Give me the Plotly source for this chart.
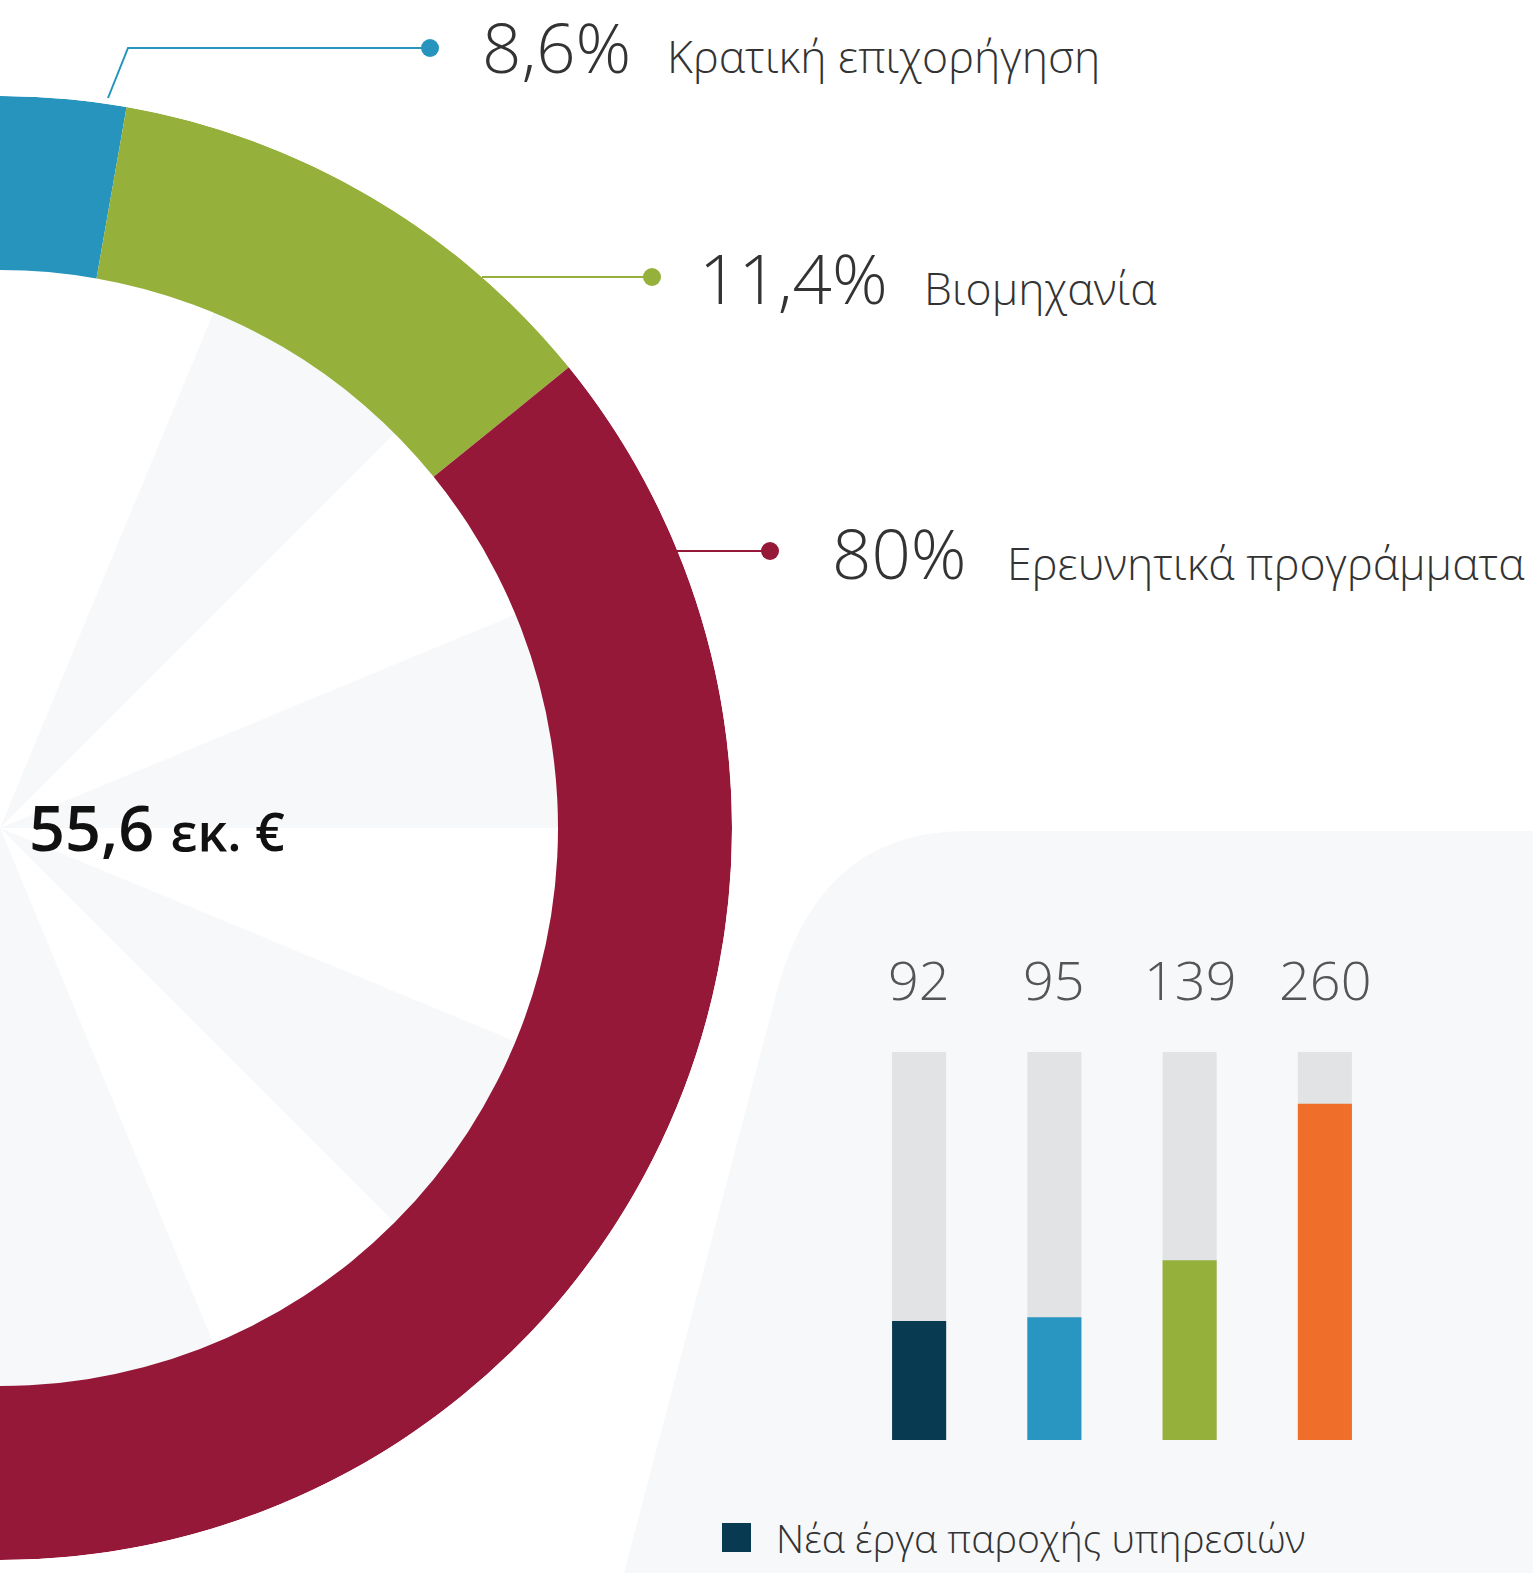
import numpy as np
import plotly.graph_objects as go

W, H = 1533, 1573

# ---------------- data ----------------
share_labels = ["Κρατική επιχορήγηση", "Βιομηχανία", "Ερευνητικά προγράμματα"]
share_values = [8.6, 11.4, 80.0]
share_text = ["8,6%", "11,4%", "80%"]
total_number = "55,6"
total_unit = "εκ. €"

bar_keys = [0, 1, 2, 3]
bar_values = [92, 95, 139, 260]
bar_text = ["92", "95", "139", "260"]
track_max = 300
legend_label = "Νέα έργα παροχής υπηρεσιών"

# ---------------- styles ----------------
ring_colors = ["#2794bd", "#95b03b", "#951839"]
bar_colors = ["#083a52", "#2896c0", "#96b03c", "#ef6f2a"]
track_color = "#e1e3e5"
wedge_gray = "#f7f8fa"
panel_color = "#f7f8fa"
txt_color = "#333333"

R_OUT, R_IN = 732, 558
CX, CY = 0, 828
ring_start = -21  # degrees clockwise from top


def px(x):
    return x / W


def py(y):
    return 1 - y / H


fig = go.Figure()

# background wedges inside ring (decorative)
n_w = 16
w_theta = [22.5 * k + 11.25 for k in range(n_w)]
w_colors = ["#ffffff" if k % 2 == 0 else wedge_gray for k in range(n_w)]
fig.add_trace(go.Barpolar(r=[R_IN] * n_w, theta=w_theta, width=[22.5] * n_w,
                          base=0, marker=dict(color=w_colors, line=dict(width=0)),
                          hoverinfo="skip", showlegend=False, subplot="polar"))

# ring from the shares
vals = np.array(share_values)
widths = vals / vals.sum() * 360.0
starts = ring_start + np.concatenate([[0], np.cumsum(widths)[:-1]])
centers = starts + widths / 2
fig.add_trace(go.Barpolar(r=[R_OUT - R_IN] * len(vals), base=R_IN, theta=centers,
                          width=widths, marker=dict(color=ring_colors, line=dict(width=0)),
                          text=share_labels, hoverinfo="text", showlegend=False,
                          subplot="polar"))

# bars: tracks + values
fig.add_trace(go.Bar(x=bar_keys, y=[track_max] * len(bar_keys), width=0.4,
                     marker=dict(color=track_color, line=dict(width=0)),
                     hoverinfo="skip", showlegend=False))
fig.add_trace(go.Bar(x=bar_keys, y=bar_values, width=0.4,
                     marker=dict(color=bar_colors, line=dict(width=0)),
                     showlegend=False))

annotations = []
for k, t in zip(bar_keys, bar_text):
    annotations.append(dict(x=k, y=track_max, xref="x", yref="y", text=t,
                            showarrow=False, yanchor="bottom", yshift=34,
                            font=dict(family="Open Sans", size=54, color="#555555", weight=300)))

# center total
annotations.append(dict(x=px(27), y=py(826), xref="paper", yref="paper", xanchor="left",
                        yanchor="middle", showarrow=False,
                        text=f"{total_number} <span style='font-size:52px'>{total_unit}</span>",
                        font=dict(family="Open Sans", size=63, color="#111111", weight=600)))

# share labels with connectors
label_pos = [(480, 46, 665, 56), (697, 277, 922, 287), (830, 552, 1005, 562)]
conn = [[(108, 98), (128, 48), (430, 48)],
        [(482, 277), (652, 277)],
        [(676, 551), (770, 551)]]
shapes = []

# bar panel background
path = (f"M {px(624)},{py(1573)} L {px(772)},{py(1010)} "
        f"Q {px(812)},{py(831)} {px(965)},{py(831)} L {px(W)},{py(831)} "
        f"L {px(W)},{py(H)} Z")
shapes.append(dict(type="path", path=path, xref="paper", yref="paper",
                   fillcolor=panel_color, line=dict(width=0), layer="below"))

for i in range(3):
    nx, ny, lx, ly = label_pos[i]
    annotations.append(dict(x=px(nx), y=py(ny), xref="paper", yref="paper", xanchor="left",
                            yanchor="middle", showarrow=False, text=share_text[i],
                            font=dict(family="Open Sans", size=69, color=txt_color, weight=300)))
    annotations.append(dict(x=px(lx), y=py(ly), xref="paper", yref="paper", xanchor="left",
                            yanchor="middle", showarrow=False, text=share_labels[i],
                            font=dict(family="Open Sans", size=44.5, color=txt_color, weight=300)))
    pts = conn[i]
    p = "M " + " L ".join(f"{px(a)},{py(b)}" for a, b in pts)
    shapes.append(dict(type="path", path=p, xref="paper", yref="paper",
                       line=dict(color=ring_colors[i], width=2)))
    dx, dy = pts[-1]
    shapes.append(dict(type="circle", xref="paper", yref="paper",
                       x0=px(dx - 9), x1=px(dx + 9), y0=py(dy + 9), y1=py(dy - 9),
                       fillcolor=ring_colors[i], line=dict(width=0)))

# legend
shapes.append(dict(type="rect", xref="paper", yref="paper",
                   x0=px(722), x1=px(751), y0=py(1552), y1=py(1523),
                   fillcolor=bar_colors[0], line=dict(width=0)))
annotations.append(dict(x=px(774), y=py(1537), xref="paper", yref="paper", xanchor="left",
                        yanchor="middle", showarrow=False, text=legend_label,
                        font=dict(family="Open Sans", size=39, color=txt_color, weight=300)))

fig.update_layout(
    width=W, height=H,
    margin=dict(l=0, r=0, t=0, b=0),
    paper_bgcolor="white", plot_bgcolor="rgba(0,0,0,0)",
    barmode="overlay",
    polar=dict(domain=dict(x=[0, R_OUT / W], y=[py(CY + R_OUT), py(CY - R_OUT)]),
               sector=[-90, 90], hole=0, bgcolor="rgba(0,0,0,0)",
               radialaxis=dict(range=[0, R_OUT], visible=False),
               angularaxis=dict(visible=False, rotation=90, direction="clockwise")),
    xaxis=dict(domain=[px(851.5), px(1392.5)], range=[-0.5, 3.5], visible=False, fixedrange=True),
    yaxis=dict(domain=[py(1440), py(1052)], range=[0, track_max], visible=False, fixedrange=True),
    shapes=shapes, annotations=annotations, showlegend=False,
)

fig.write_html("out.html", config={"displayModeBar": False},
               post_script="document.body.style.margin='0';document.body.style.overflow='hidden';")
